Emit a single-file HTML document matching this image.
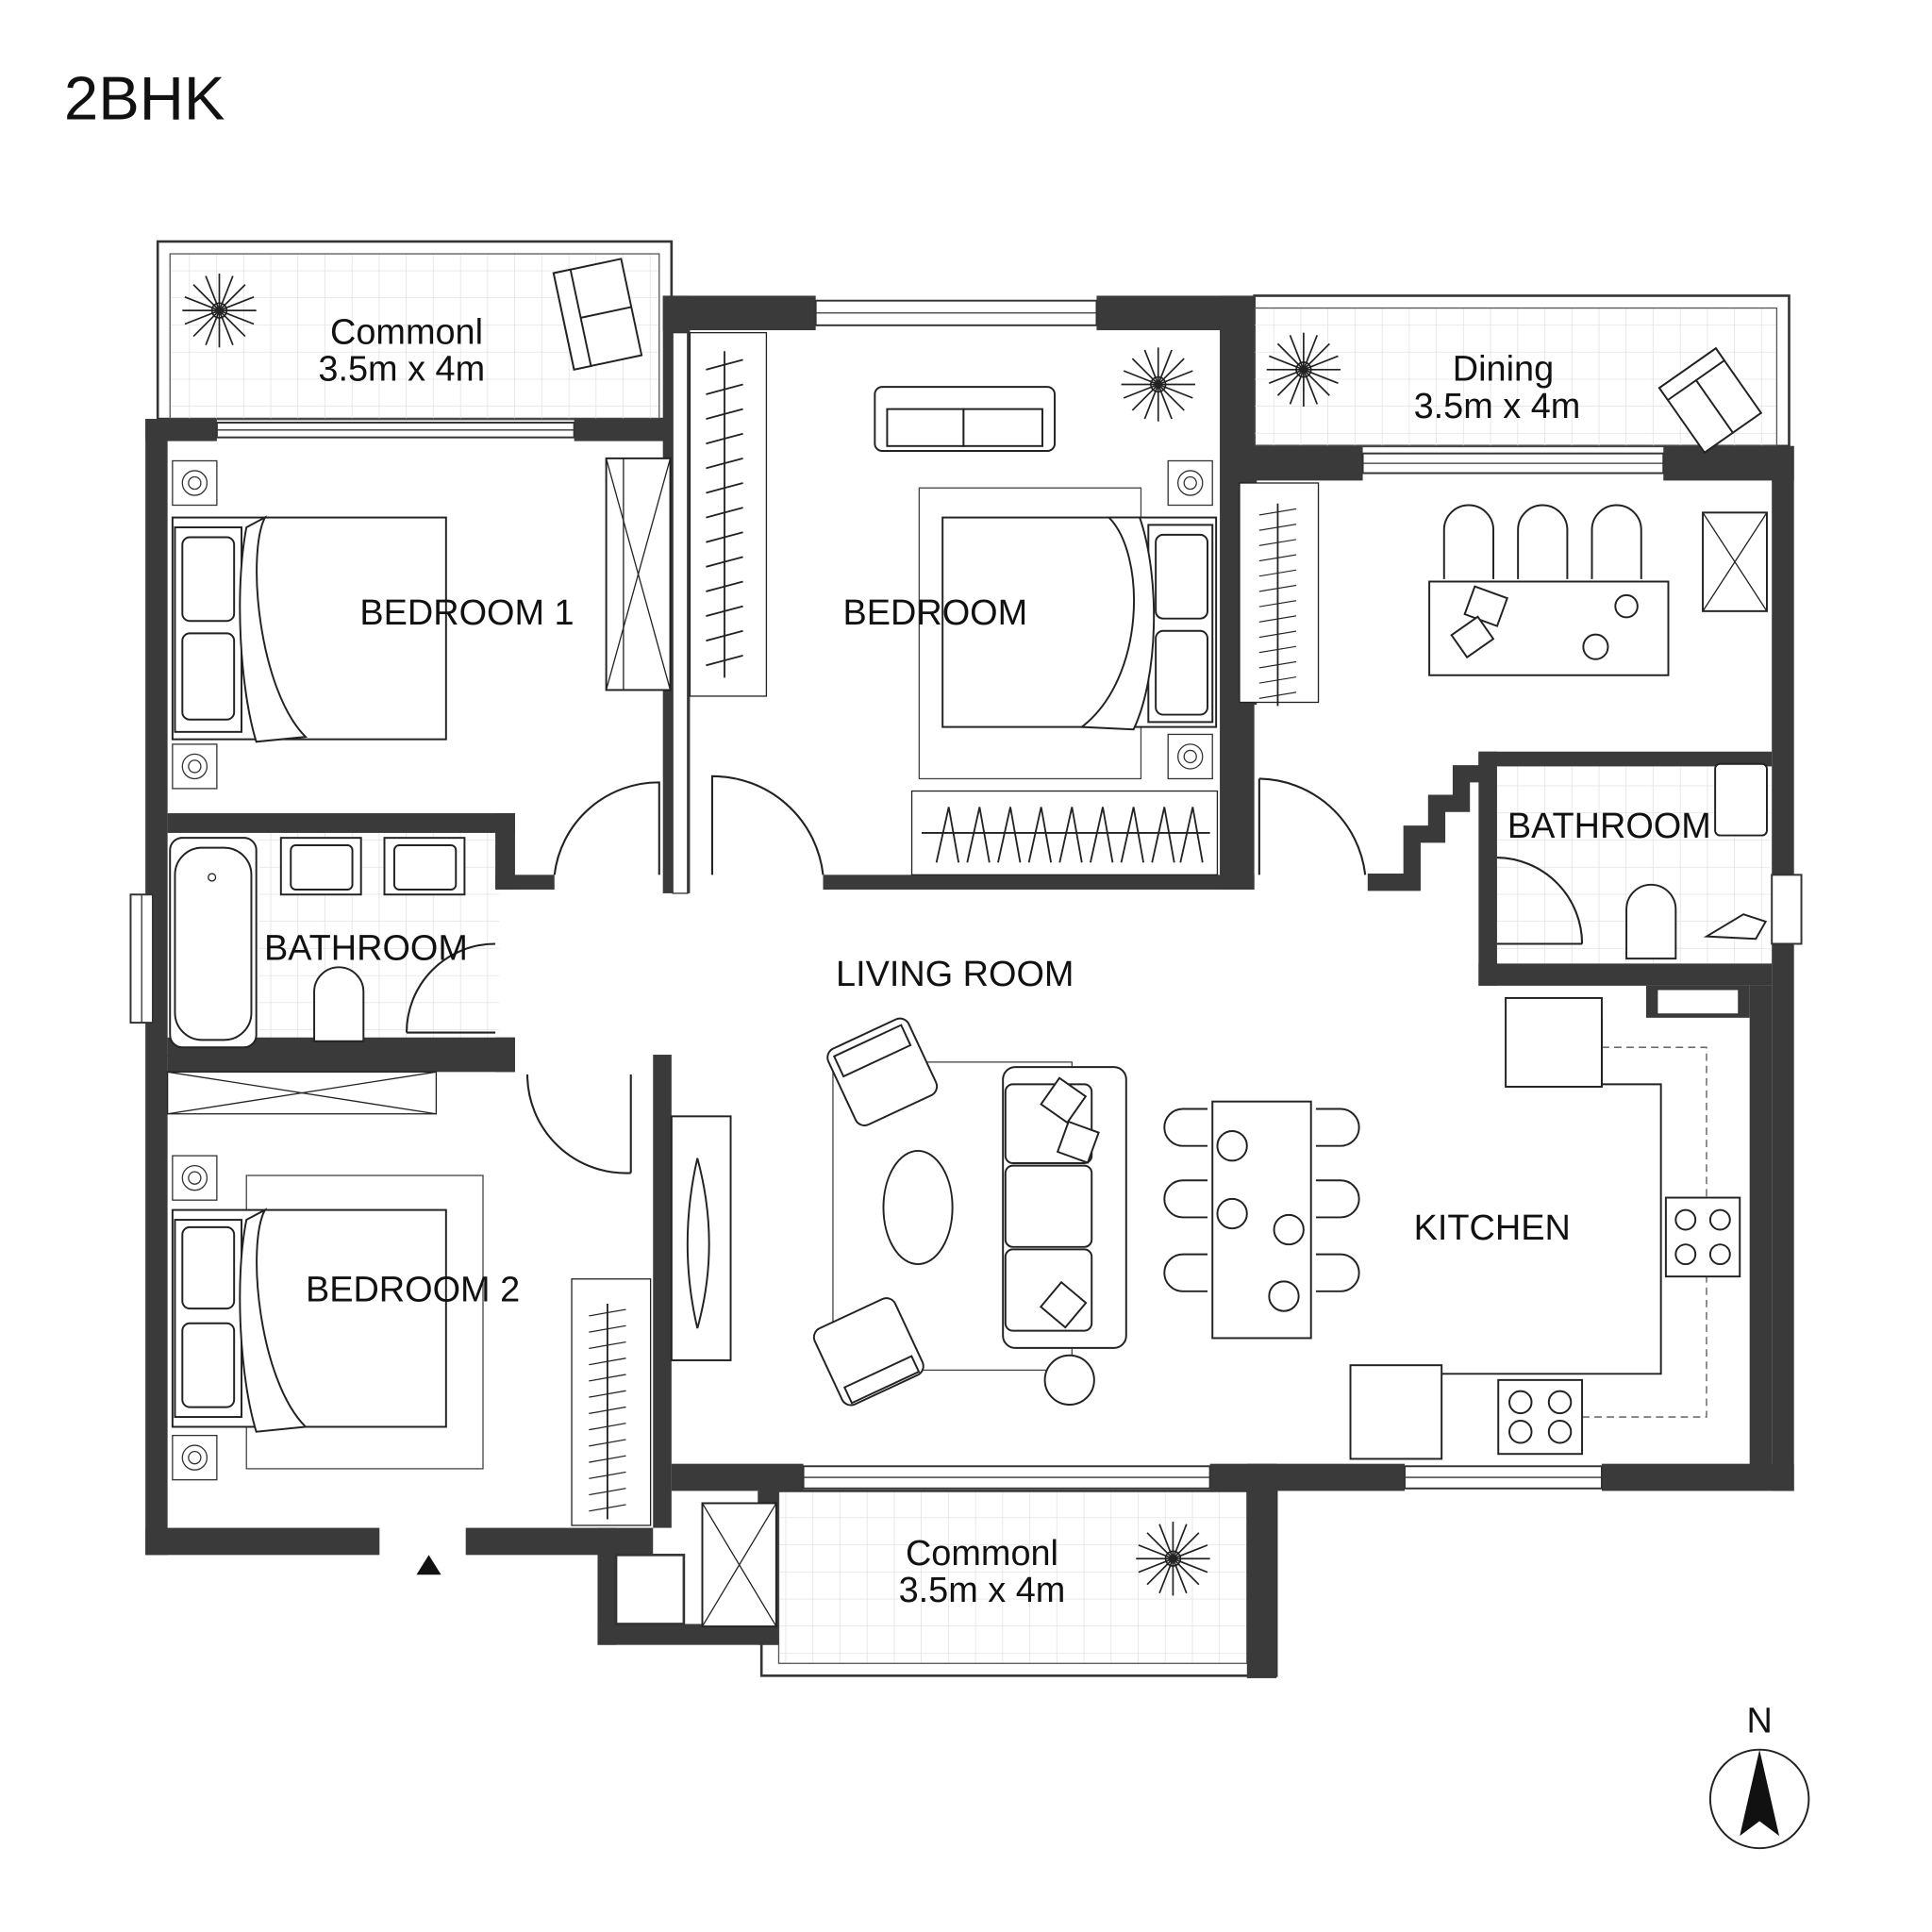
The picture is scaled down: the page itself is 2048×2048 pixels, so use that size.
<!DOCTYPE html>
<html><head><meta charset="utf-8"><style>
html,body{margin:0;padding:0;background:#fff}
svg{display:block}
text{font-family:"Liberation Sans",sans-serif;fill:#111}
</style></head><body>
<svg width="2048" height="2048" viewBox="0 0 1568 1568" xmlns="http://www.w3.org/2000/svg">
<defs>
<pattern id="tile" width="22" height="22" patternUnits="userSpaceOnUse"><path d="M22 0V22H0" fill="none" stroke="#ddd" stroke-width="1"/></pattern>
<g id="flower"><g stroke="#222" stroke-width="1.3" fill="none">
<line x1="-30" y1="0" x2="30" y2="0"/><line x1="0" y1="-30" x2="0" y2="30"/><line x1="-21" y1="-21" x2="21" y2="21"/><line x1="-21" y1="21" x2="21" y2="-21"/>
<line x1="-28" y1="-11" x2="28" y2="11"/><line x1="-28" y1="11" x2="28" y2="-11"/><line x1="-11" y1="-28" x2="11" y2="28"/><line x1="11" y1="-28" x2="-11" y2="28"/>
<circle r="6"/></g></g>
<g id="lamp"><rect x="-18" y="-18" width="36" height="36" fill="#fff" stroke="#333"/><circle r="10" fill="none" stroke="#333"/><circle r="5" fill="none" stroke="#333"/></g>
<g id="wardV"><g stroke="#222" stroke-width="1.4" fill="none">
<path d="M0 0 l30 -8 M0 20 l30 -8 M0 40 l30 -8 M0 60 l30 -8 M0 80 l30 -8 M0 100 l30 -8 M0 120 l30 -8 M0 140 l30 -8 M0 160 l30 -8 M0 180 l30 -8 M0 200 l30 -8 M0 220 l30 -8 M0 240 l30 -8"/>
<line x1="15" y1="-15" x2="15" y2="250"/></g></g>
</defs>
<rect width="1568" height="1568" fill="#fff"/>
<text x="52" y="97" font-size="50">2BHK</text>

<rect x="128" y="196" width="417" height="144" fill="none" stroke="#333" stroke-width="2"/>
<rect x="138" y="206" width="397" height="134" fill="url(#tile)" stroke="#555"/>
<rect x="1018" y="240" width="434" height="122" fill="none" stroke="#333" stroke-width="2"/>
<rect x="1018" y="250" width="424" height="112" fill="url(#tile)" stroke="#555"/>
<rect x="632" y="1210" width="380" height="140" fill="url(#tile)" stroke="#555"/>
<rect x="618" y="1210" width="418" height="150" fill="none" stroke="#333" stroke-width="2"/>
<rect x="210" y="676" width="195" height="170" fill="url(#tile)"/>
<rect x="1215" y="610" width="222" height="172" fill="url(#tile)"/>

<g fill="#3a3a3a">
<rect x="118" y="340" width="58" height="18"/><rect x="466" y="340" width="80" height="18"/>
<rect x="118" y="340" width="18" height="922"/>
<rect x="538" y="240" width="124" height="28"/><rect x="890" y="240" width="128" height="28"/>
<rect x="538" y="240" width="22" height="485"/>
<rect x="990" y="240" width="28" height="482"/>
<rect x="1000" y="362" width="106" height="28"/><rect x="1350" y="362" width="106" height="28"/>
<rect x="1000" y="362" width="20" height="210"/>
<rect x="1438" y="362" width="18" height="848"/>
<rect x="118" y="1240" width="190" height="22"/><rect x="378" y="1240" width="152" height="22"/>
<rect x="545" y="1188" width="107" height="22"/><rect x="982" y="1188" width="158" height="22"/><rect x="1300" y="1188" width="156" height="22"/>
<rect x="485" y="1240" width="15" height="95"/><rect x="485" y="1318" width="147" height="17"/><rect x="615" y="1210" width="17" height="125"/>
<rect x="1012" y="1188" width="24" height="174"/>
<rect x="530" y="856" width="15" height="384"/>
<rect x="136" y="660" width="282" height="16"/><rect x="402" y="660" width="16" height="62"/><rect x="402" y="710" width="48" height="12"/>
<rect x="136" y="842" width="282" height="16"/><rect x="402" y="842" width="16" height="28"/><rect x="136" y="856" width="282" height="14"/>
<rect x="668" y="710" width="350" height="12"/>
<rect x="1200" y="610" width="238" height="12"/>
<rect x="1200" y="610" width="15" height="190"/>
<rect x="1200" y="782" width="238" height="18"/>
<rect x="1336" y="800" width="84" height="26"/>
<rect x="1420" y="800" width="18" height="400"/>
</g>
<polyline points="1110,716 1146,716 1146,677 1166,677 1166,652 1186,652 1186,628 1207,628 1207,612" fill="none" stroke="#3a3a3a" stroke-width="14"/>
<rect x="1345" y="803" width="66" height="20" fill="#fff" stroke="#333"/>
<rect x="500" y="1262" width="55" height="56" fill="#fff" stroke="#333" stroke-width="2"/>
<rect x="546" y="270" width="12" height="455" fill="#fff" stroke="#333"/>
<g fill="#fff" stroke="#333" stroke-width="1.5">
<rect x="176" y="343" width="290" height="12"/><rect x="662" y="244" width="228" height="20"/>
<rect x="1106" y="368" width="244" height="16"/><rect x="652" y="1190" width="330" height="18"/>
<rect x="1140" y="1190" width="160" height="18"/>
<rect x="106" y="726" width="18" height="104"/><rect x="1438" y="710" width="24" height="56"/>
</g>
<g stroke="#333" stroke-width="1"><line x1="176" y1="349" x2="466" y2="349"/><line x1="662" y1="254" x2="890" y2="254"/><line x1="1106" y1="376" x2="1350" y2="376"/><line x1="652" y1="1199" x2="982" y2="1199"/><line x1="1140" y1="1199" x2="1300" y2="1199"/><line x1="115" y1="726" x2="115" y2="830"/></g>

<g fill="none" stroke="#222" stroke-width="1.6">
<path d="M450 710 A85 85 0 0 1 535 635 V710"/>
<path d="M668 710 A90 90 0 0 0 578 630 V710"/>
<path d="M1022 632 A88 88 0 0 1 1108 710"/><line x1="1022" y1="632" x2="1022" y2="710"/>
<path d="M330 838 A72 72 0 0 1 402 766"/><line x1="330" y1="838" x2="402" y2="838"/>
<path d="M428 872 A80 80 0 0 0 512 952"/><line x1="512" y1="872" x2="512" y2="952"/>
<path d="M1215 696 A70 70 0 0 1 1284 766"/><line x1="1215" y1="766" x2="1284" y2="766"/>
</g>
<polygon points="338,1278 348,1262 358,1278" fill="#111"/>

<use href="#flower" x="178" y="252"/><use href="#flower" x="1058" y="300"/><use href="#flower" x="952" y="1265"/><use href="#flower" x="940" y="312"/>
<g fill="#fff" stroke="#222" stroke-width="1.5">
<g transform="translate(485,255) rotate(-12)"><rect x="-28" y="-40" width="56" height="80"/><rect x="-28" y="-40" width="14" height="80"/><line x1="-14" y1="0" x2="28" y2="0"/></g>
<g transform="translate(1388,325) rotate(-35)"><rect x="-28" y="-32" width="56" height="64"/><rect x="-28" y="-32" width="56" height="12"/><line x1="0" y1="-20" x2="0" y2="32"/></g>
<rect x="570" y="1220" width="60" height="100"/>
</g>
<g stroke="#222" fill="none"><line x1="570" y1="1220" x2="630" y2="1320"/><line x1="630" y1="1220" x2="570" y2="1320"/></g>

<g fill="#fff" stroke="#222" stroke-width="1.5">
<rect x="140" y="420" width="222" height="180"/><rect x="142" y="428" width="54" height="166"/>
<rect x="148" y="436" width="42" height="68" rx="6"/><rect x="148" y="514" width="42" height="70" rx="6"/>
<path d="M215 420 C200 450 210 560 248 598 L208 602 C195 560 190 480 200 428Z"/>
<rect x="492" y="372" width="52" height="188"/>
</g>
<g stroke="#222"><line x1="492" y1="372" x2="544" y2="560"/><line x1="544" y1="372" x2="492" y2="560"/><line x1="506" y1="372" x2="506" y2="560"/></g>
<use href="#lamp" x="158" y="392"/><use href="#lamp" x="158" y="622"/>
<rect x="560" y="270" width="62" height="295" fill="#fff" stroke="#222"/>
<g transform="translate(573,300)"><use href="#wardV"/></g>
<rect x="1006" y="392" width="64" height="178" fill="#fff" stroke="#222"/>
<g transform="translate(1022,418) scale(1,0.62)"><use href="#wardV"/></g>
<rect x="464" y="1038" width="64" height="200" fill="#fff" stroke="#222"/>
<g transform="translate(478,1068) scale(1,0.66)"><use href="#wardV"/></g>
<rect x="740" y="642" width="248" height="68" fill="#fff" stroke="#222"/>
<g stroke="#222" stroke-width="1.4" fill="none"><path d="M760 700 l10 -45 l8 45 M785 700 l10 -45 l8 45 M810 700 l10 -45 l8 45 M835 700 l10 -45 l8 45 M860 700 l10 -45 l8 45 M885 700 l10 -45 l8 45 M910 700 l10 -45 l8 45 M935 700 l10 -45 l8 45 M958 700 l10 -45 l8 45"/><line x1="748" y1="676" x2="982" y2="676"/></g>

<rect x="746" y="396" width="180" height="236" fill="none" stroke="#444"/>
<g fill="#fff" stroke="#222" stroke-width="1.5">
<rect x="765" y="420" width="222" height="170"/><rect x="932" y="426" width="52" height="160"/>
<rect x="938" y="434" width="42" height="68" rx="6"/><rect x="938" y="512" width="42" height="68" rx="6"/>
<path d="M900 420 C930 450 930 550 878 590 L920 592 C940 550 942 470 925 420Z"/>
<rect x="710" y="314" width="146" height="52" rx="6"/><rect x="720" y="332" width="62" height="30"/><rect x="782" y="332" width="64" height="30"/>
</g>
<use href="#lamp" x="966" y="392"/><use href="#lamp" x="966" y="614"/>

<g fill="#fff" stroke="#222" stroke-width="1.5">
<rect x="1160" y="472" width="194" height="76"/>
<path d="M1172 470 v-40 a20 20 0 0 1 40 0 v40 M1232 470 v-40 a20 20 0 0 1 40 0 v40 M1292 470 v-40 a20 20 0 0 1 40 0 v40"/>
<rect x="1192" y="480" width="28" height="24" transform="rotate(20 1206 492)"/><rect x="1182" y="506" width="26" height="22" transform="rotate(-35 1195 517)"/>
<circle cx="1320" cy="492" r="9"/><circle cx="1295" cy="525" r="10"/>
<rect x="1382" y="416" width="52" height="80"/>
</g>
<g stroke="#222"><line x1="1382" y1="416" x2="1434" y2="496"/><line x1="1434" y1="416" x2="1382" y2="496"/></g>

<g fill="#fff" stroke="#222" stroke-width="1.5">
<rect x="138" y="680" width="70" height="170" rx="10"/><rect x="142" y="688" width="62" height="156" rx="22"/>
<rect x="228" y="680" width="65" height="46"/><rect x="236" y="686" width="50" height="36" rx="4"/>
<rect x="312" y="680" width="65" height="46"/><rect x="320" y="686" width="50" height="36" rx="4"/>
<path d="M255 845 v-40 a20 20 0 0 1 40 0 v40z"/>
<path d="M1320 778 v-40 a20 20 0 0 1 40 0 v40z"/>
<rect x="1392" y="620" width="42" height="58" rx="4"/>
<path d="M1385 760 l30 -18 l18 6 l-8 14z"/>
</g>
<circle cx="172" cy="712" r="3" fill="none" stroke="#222"/>

<rect x="676" y="862" width="194" height="250" fill="none" stroke="#444"/>
<g fill="#fff" stroke="#222" stroke-width="1.5">
<ellipse cx="745" cy="980" rx="28" ry="46"/>
<g transform="translate(716,870) rotate(-25)"><rect x="-36" y="-34" width="72" height="68" rx="8"/><rect x="-30" y="-28" width="60" height="18"/></g>
<g transform="translate(705,1097) rotate(-25)"><rect x="-36" y="-34" width="72" height="68" rx="8"/><rect x="-30" y="18" width="60" height="14"/></g>
<rect x="814" y="866" width="100" height="228" rx="10"/>
<rect x="816" y="880" width="70" height="64" rx="6"/><rect x="816" y="946" width="70" height="66" rx="6"/><rect x="816" y="1014" width="70" height="66" rx="6"/>
<rect x="850" y="880" width="26" height="26" transform="rotate(35 863 893)"/><rect x="862" y="914" width="26" height="26" transform="rotate(20 875 927)"/><rect x="850" y="1046" width="26" height="26" transform="rotate(40 863 1059)"/>
<circle cx="868" cy="1120" r="20"/>
<rect x="545" y="906" width="48" height="198"/>
<path d="M566 940 Q585 1010 566 1078 Q550 1010 566 940Z"/>
<rect x="984" y="894" width="80" height="192"/>
<path d="M980 930 h-20 a15 15 0 0 1 0 -30 h20 M980 988 h-20 a15 15 0 0 1 0 -30 h20 M980 1048 h-20 a15 15 0 0 1 0 -30 h20"/>
<path d="M1068 930 h20 a15 15 0 0 0 0 -30 h-20 M1068 988 h20 a15 15 0 0 0 0 -30 h-20 M1068 1048 h20 a15 15 0 0 0 0 -30 h-20"/>
<circle cx="1000" cy="930" r="12"/><circle cx="1000" cy="985" r="12"/><circle cx="1046" cy="998" r="12"/><circle cx="1042" cy="1052" r="12"/>
</g>

<path d="M1300 850 H1385 V1150 H1280" fill="none" stroke="#555" stroke-dasharray="6 4"/>
<path d="M1300 826 V880 H1348 V1115 H1170" fill="none" stroke="#222" stroke-width="1.5"/>
<g fill="#fff" stroke="#222" stroke-width="1.5">
<rect x="1222" y="810" width="78" height="72"/>
<rect x="1352" y="972" width="60" height="64"/><circle cx="1368" cy="990" r="8"/><circle cx="1396" cy="990" r="8"/><circle cx="1368" cy="1018" r="8"/><circle cx="1396" cy="1018" r="8"/>
<rect x="1096" y="1108" width="74" height="76"/>
<rect x="1216" y="1120" width="68" height="60"/><circle cx="1234" cy="1138" r="9"/><circle cx="1266" cy="1138" r="9"/><circle cx="1234" cy="1162" r="9"/><circle cx="1266" cy="1162" r="9"/>
</g>

<rect x="136" y="870" width="218" height="34" fill="#fff" stroke="#222"/>
<g stroke="#222"><line x1="136" y1="870" x2="354" y2="904"/><line x1="354" y1="870" x2="136" y2="904"/></g>
<rect x="200" y="954" width="192" height="238" fill="none" stroke="#444"/>
<g fill="#fff" stroke="#222" stroke-width="1.5">
<rect x="140" y="982" width="222" height="176"/><rect x="142" y="990" width="54" height="160"/>
<rect x="148" y="996" width="42" height="66" rx="6"/><rect x="148" y="1074" width="42" height="68" rx="6"/>
<path d="M215 982 C200 1010 210 1120 248 1158 L208 1162 C195 1120 190 1040 200 990Z"/>
</g>
<use href="#lamp" x="158" y="956"/><use href="#lamp" x="158" y="1183"/>

<g font-size="29">
<text x="330" y="279" text-anchor="middle">Commonl</text><text x="326" y="309" text-anchor="middle">3.5m x 4m</text>
<text x="1220" y="309" text-anchor="middle">Dining</text><text x="1215" y="339" text-anchor="middle">3.5m x 4m</text>
<text x="797" y="1270" text-anchor="middle">Commonl</text><text x="797" y="1300" text-anchor="middle">3.5m x 4m</text>
<text x="379" y="507" text-anchor="middle">BEDROOM 1</text>
<text x="759" y="507" text-anchor="middle">BEDROOM</text>
<text x="297" y="779" text-anchor="middle">BATHROOM</text>
<text x="1306" y="680" text-anchor="middle">BATHROOM</text>
<text x="775" y="800" text-anchor="middle">LIVING ROOM</text>
<text x="1211" y="1006" text-anchor="middle">KITCHEN</text>
<text x="335" y="1056" text-anchor="middle">BEDROOM 2</text>
<text x="1428" y="1406" text-anchor="middle">N</text>
</g>
<circle cx="1428" cy="1460" r="40" fill="none" stroke="#222" stroke-width="1.5"/>
<polygon points="1428,1420 1412,1490 1428,1478 1444,1490" fill="#111"/>
</svg>
</body></html>
